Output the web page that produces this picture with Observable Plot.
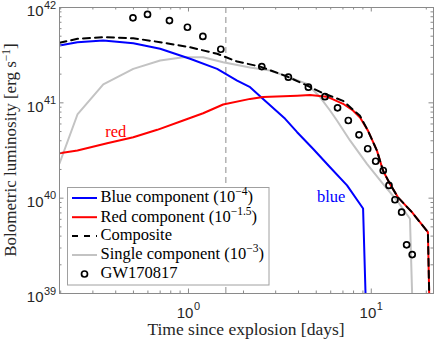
<!DOCTYPE html>
<html><head><meta charset="utf-8">
<script src="https://cdn.jsdelivr.net/npm/d3@7"></script>
<script src="https://cdn.jsdelivr.net/npm/@observablehq/plot@0.6"></script>
<style>
html,body{margin:0;padding:0;background:#fff;}
#chart{width:436px;height:342px;}
svg{display:block}
</style></head><body><div id="chart"></div>
<script>
// ---- data ----
const blueT = [0.197,0.247,0.342,0.499,0.700,1.02,1.435,1.846,2.174,2.56,3.38,3.93,4.80,5.95,7.37,9.02,9.4];
const blueL = [3.99e41,4.33e41,4.51e41,4.22e41,3.69e41,2.90e41,2.27e41,1.71e41,1.46e41,1.10e41,6.80e40,4.92e40,3.30e40,2.11e40,1.36e40,7.8e39,5e38];

const redT = [0.197,0.247,0.359,0.499,0.675,0.935,1.203,1.547,2.174,2.56,3.93,4.62,5.72,7.01,7.94,8.68,9.59,10.74,11.59,12.65,14.0,16.69,20.41,20.9];
const redL = [2.96e40,3.16e40,3.77e40,4.36e40,5.21e40,6.53e40,7.78e40,9.6e40,1.10e41,1.15e41,1.19e41,1.21e41,1.16e41,9.77e40,8.31e40,7.02e40,5.11e40,3.15e40,1.95e40,1.41e40,1.02e40,7.13e39,4.40e39,5e38];

const compT = [0.197,0.247,0.342,0.499,0.700,1.02,1.435,1.846,2.465,3.46,4.45,5.45,7.01,8.68,9.59,10.74,11.59,12.65,14.0,16.69,20.41,20.9];
const compL = [4.26e41,4.70e41,4.88e41,4.76e41,4.33e41,3.83e41,3.27e41,2.71e41,2.40e41,1.89e41,1.52e41,1.26e41,1.05e41,7.3e40,5.11e40,3.15e40,1.95e40,1.41e40,1.02e40,7.13e39,4.40e39,5e38];

const singleT = [0.197,0.247,0.342,0.499,0.700,0.935,1.203,1.547,2.174,2.796,3.46,4.45,5.245,5.95,6.49,7.65,9.47,11.59,13.82,16.28,16.9];
const singleL = [2.31e40,7.55e40,1.56e41,2.27e41,2.78e41,3.01e41,3.01e41,2.67e41,2.35e41,2.18e41,1.89e41,1.58e41,1.15e41,8.31e40,6.53e40,4.03e40,2.29e40,1.41e40,9.45e39,6.08e39,5e38];

const gwT = [0.497,0.597,0.787,0.987,1.199,1.503,2.518,3.52,4.53,5.58,6.54,7.49,8.57,9.56,10.57,11.63,12.50,13.48,14.66,15.61,16.75];
const gwL = [7.80e41,8.45e41,7.30e41,6.21e41,4.97e41,3.65e41,2.40e41,1.86e41,1.46e41,1.16e41,8.87e40,6.53e40,4.62e40,3.30e40,2.44e40,1.95e40,1.36e40,9.62e39,7.13e39,3.24e39,2.56e39];

const markerT = [1.6];

const noteText = ["red", "blue"];
const noteT = [0.40, 6.04];
const noteL = [5.0e40, 1.04e40];
const noteColor = ["#ff0000", "#0000ff"];

const xMajor = [1, 10];
const xExp = ["0", "1"];
const xMinor = [0.2,0.3,0.4,0.5,0.6,0.7,0.8,0.9,2,3,4,5,6,7,8,9,20];
const yMajor = [1e39, 1e40, 1e41, 1e42];
const yExp = ["39", "40", "41", "42"];
const yMinor = [1e39, 1e40, 1e41].flatMap(b => [2,3,4,5,6,7,8,9].map(m => m * b));

const legendLabels = [
  ["Blue component (10", "\u22124", ")"],
  ["Red component (10", "\u22121.5", ")"],
  ["Composite", "", ""],
  ["Single component (10", "\u22123", ")"],
  ["GW170817", "", ""]
];

// ---- layout ----
const W = 436, H = 342, mL = 59, mR = 3, mT = 7, mB = 49;
const fw = W - mL - mR, fh = H - mT - mB;
const axisColor = "#8a8a8a";
const sans = "'Liberation Sans', Arial, Helvetica, sans-serif";
const serif = "'Liberation Serif', 'Times New Roman', serif";

const tbl = (T, L) => T.map((t, i) => ({t, L: L[i]}));
const blue = tbl(blueT, blueL), red = tbl(redT, redL), comp = tbl(compT, compL),
      single = tbl(singleT, singleL), gw = tbl(gwT, gwL);
const notes = noteText.map((s, i) => ({s, t: noteT[i], L: noteL[i], c: noteColor[i]}));

const majLen = 4.5, minLen = 2.5;
const tickMarks = [
  Plot.tickX(xMajor, {x: d => d, stroke: axisColor, insetTop: fh - majLen}),
  Plot.tickX(xMinor, {x: d => d, stroke: axisColor, insetTop: fh - minLen}),
  Plot.tickX(xMajor, {x: d => d, stroke: axisColor, insetBottom: fh - majLen}),
  Plot.tickX(xMinor, {x: d => d, stroke: axisColor, insetBottom: fh - minLen}),
  Plot.tickY(yMajor, {y: d => d, stroke: axisColor, insetRight: fw - majLen}),
  Plot.tickY(yMinor, {y: d => d, stroke: axisColor, insetRight: fw - minLen}),
  Plot.tickY(yMajor, {y: d => d, stroke: axisColor, insetLeft: fw - majLen}),
  Plot.tickY(yMinor, {y: d => d, stroke: axisColor, insetLeft: fw - minLen})
];

const labelMarks = [
  Plot.text(xMajor, {x: d => d, frameAnchor: "bottom", text: () => "10", textAnchor: "end", lineAnchor: "middle", dx: 5, dy: 20, fontSize: 15, fontFamily: sans, fill: "#262626"}),
  Plot.text(xMajor, {x: d => d, frameAnchor: "bottom", text: (d, i) => xExp[i], textAnchor: "start", lineAnchor: "middle", dx: 5.5, dy: 12.5, fontSize: 11, fontFamily: sans, fill: "#262626"}),
  Plot.text(yMajor, {y: d => d, frameAnchor: "left", text: () => "10", textAnchor: "end", lineAnchor: "middle", dx: -16, dy: 4, fontSize: 15, fontFamily: sans, fill: "#262626"}),
  Plot.text(yMajor, {y: d => d, frameAnchor: "left", text: (d, i) => yExp[i], textAnchor: "start", lineAnchor: "middle", dx: -15.5, dy: -2.5, fontSize: 11, fontFamily: sans, fill: "#262626"})
];

const chart = Plot.plot({
  width: W, height: H,
  marginLeft: mL, marginRight: mR, marginTop: mT, marginBottom: mB,
  x: {type: "log", domain: [0.197, 21.9], axis: null},
  y: {type: "log", domain: [1e39, 1e42], axis: null},
  style: {background: "#fff", overflow: "visible"},
  marks: [
    Plot.ruleX(markerT, {x: d => d, stroke: "#b3b3b3", strokeWidth: 1.5, strokeDasharray: "6,4"}),
    Plot.line(single, {x: "t", y: "L", stroke: "#c3c3c3", strokeWidth: 2, clip: true}),
    Plot.line(blue, {x: "t", y: "L", stroke: "#0000ff", strokeWidth: 2, clip: true}),
    Plot.line(red, {x: "t", y: "L", stroke: "#ff0000", strokeWidth: 2, clip: true}),
    Plot.line(comp, {x: "t", y: "L", stroke: "#000", strokeWidth: 2, strokeDasharray: "7,5", clip: true}),
    Plot.dot(gw, {x: "t", y: "L", r: 3, stroke: "#000", strokeWidth: 1.7, fill: "none"}),
    Plot.text(notes, {x: "t", y: "L", text: "s", fill: d => d.c, fontSize: 16.5, fontFamily: serif, lineAnchor: "middle"}),
    ...tickMarks,
    Plot.frame({stroke: axisColor, strokeWidth: 1}),
    ...labelMarks
  ]
});
document.getElementById("chart").appendChild(chart);

// ---- axis titles & legend (annotation layer) ----
const svg = d3.select(chart);
svg.append("text").attr("x", mL + fw / 2).attr("y", 335).attr("text-anchor", "middle")
  .attr("font-family", serif).attr("font-size", 17.5).attr("fill", "#262626")
  .text("Time since explosion [days]");
const yt = svg.append("text").attr("transform", `translate(15.5,${mT + fh / 2}) rotate(-90)`)
  .attr("text-anchor", "middle").attr("font-family", serif).attr("font-size", 17).attr("fill", "#262626");
yt.append("tspan").text("Bolometric luminosity [erg s");
yt.append("tspan").attr("dy", -6).attr("font-size", 11.5).text("\u22121");
yt.append("tspan").attr("dy", 6).text("]");

const lg = svg.append("g").attr("text-anchor", "start");
lg.append("rect").attr("x", 67.5).attr("y", 187.5).attr("width", 201.5).attr("height", 97.5)
  .attr("fill", "#fff").attr("stroke", "#a0a0a0").attr("stroke-width", 1);
const rowY = [202.3, 221.5, 240.3, 259.3, 278.3];
const sampleStyles = [
  {stroke: "#0000ff"}, {stroke: "#ff0000"}, {stroke: "#000", dash: "6,6"}, {stroke: "#c3c3c3"}, {dot: true}
];
legendLabels.forEach((parts, i) => {
  const cy = rowY[i] - 4.3;
  const s = sampleStyles[i];
  if (s.dot) {
    lg.append("circle").attr("cx", 84.5).attr("cy", cy).attr("r", 3).attr("fill", "none")
      .attr("stroke", "#000").attr("stroke-width", 1.7);
  } else {
    lg.append("line").attr("x1", 72).attr("x2", 97).attr("y1", cy).attr("y2", cy)
      .attr("stroke", s.stroke).attr("stroke-width", 2).attr("stroke-dasharray", s.dash || null);
  }
  const t = lg.append("text").attr("x", 100.5).attr("y", rowY[i]).attr("text-anchor", "start")
    .attr("style", `font-family:${serif};font-size:16.5px`).attr("fill", "#000");
  t.append("tspan").text(parts[0]);
  if (parts[1]) {
    t.append("tspan").attr("dy", -7).attr("style", "font-size:11.5px").text(parts[1]);
    t.append("tspan").attr("dy", 7).text(parts[2]);
  }
});
</script>
</body></html>
